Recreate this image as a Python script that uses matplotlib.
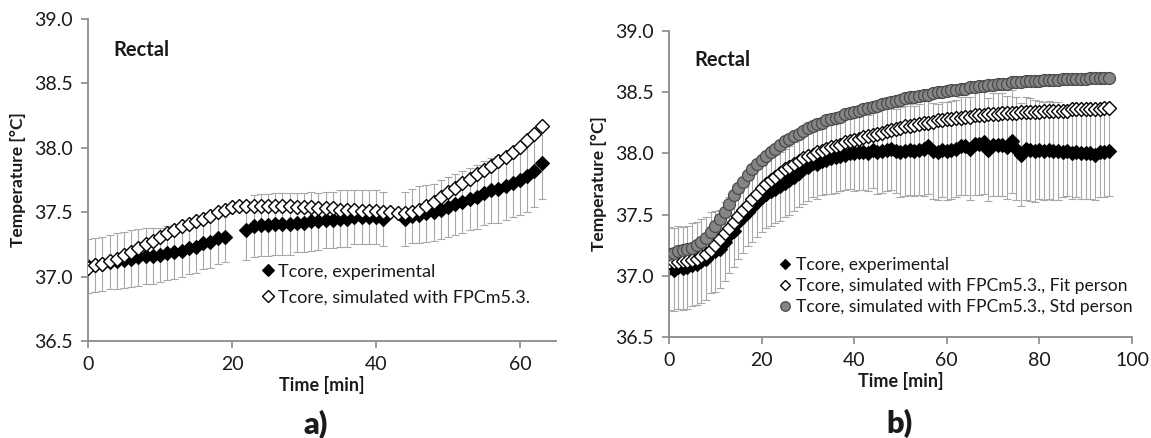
import matplotlib

matplotlib.use("Agg")
import matplotlib.pyplot as plt
import numpy as np

plt.rcParams["font.family"] = ["Lato", "DejaVu Sans"]

# ---------------------------------------------------------------------------
# data: panel a) (0..63 min, gaps in the measurement at 20-21 and 42-43)
# ---------------------------------------------------------------------------
nan = np.nan
time_a = list(range(64))
exp_a = [37.08, 37.09, 37.10, 37.11, 37.12, 37.13, 37.14, 37.15, 37.16, 37.16,
         37.17, 37.18, 37.19, 37.20, 37.22, 37.23, 37.26, 37.27, 37.30, 37.31,
         nan, nan, 37.36, 37.39, 37.40, 37.40, 37.41, 37.41, 37.41, 37.42,
         37.42, 37.43, 37.43, 37.44, 37.44, 37.45, 37.45, 37.46, 37.46, 37.46,
         37.46, 37.45, nan, nan, 37.45, 37.47, 37.48, 37.49, 37.50, 37.52,
         37.54, 37.56, 37.58, 37.60, 37.62, 37.65, 37.67, 37.68, 37.70, 37.73,
         37.75, 37.78, 37.82, 37.88]
sd_a = [0.21, 0.21, 0.21, 0.21, 0.22, 0.22, 0.22, 0.22, 0.22, 0.22,
        0.21, 0.21, 0.21, 0.20, 0.20, 0.20, 0.20, 0.20, 0.20, 0.20,
        nan, nan, 0.23, 0.24, 0.24, 0.24, 0.24, 0.24, 0.24, 0.23,
        0.23, 0.23, 0.22, 0.22, 0.22, 0.22, 0.22, 0.21, 0.21, 0.21,
        0.21, 0.21, nan, nan, 0.21, 0.21, 0.22, 0.22, 0.22, 0.23,
        0.23, 0.24, 0.24, 0.24, 0.25, 0.25, 0.25, 0.26, 0.26, 0.27,
        0.27, 0.28, 0.28, 0.28]
sim_a = [37.07, 37.09, 37.10, 37.12, 37.14, 37.17, 37.19, 37.22, 37.25, 37.28,
         37.31, 37.34, 37.36, 37.39, 37.41, 37.43, 37.45, 37.47, 37.50, 37.52,
         37.54, 37.55, 37.55, 37.55, 37.55, 37.55, 37.55, 37.55, 37.55, 37.54,
         37.54, 37.54, 37.53, 37.53, 37.53, 37.52, 37.52, 37.52, 37.51, 37.51,
         37.51, 37.50, 37.50, 37.49, 37.49, 37.50, 37.52, 37.55, 37.58, 37.62,
         37.66, 37.69, 37.73, 37.76, 37.80, 37.83, 37.86, 37.90, 37.93, 37.97,
         38.01, 38.06, 38.11, 38.17]

# ---------------------------------------------------------------------------
# data: panel b) (0..95 min)
# ---------------------------------------------------------------------------
time_b = list(range(96))
exp_b = [37.06, 37.05, 37.07, 37.06, 37.07, 37.09, 37.10, 37.12, 37.14, 37.19,
         37.20, 37.22, 37.28, 37.33, 37.37, 37.44, 37.48, 37.52, 37.56, 37.60,
         37.64, 37.67, 37.69, 37.71, 37.73, 37.76, 37.78, 37.81, 37.84, 37.87,
         37.89, 37.92, 37.91, 37.94, 37.95, 37.96, 37.97, 37.98, 37.99, 38.00,
         38.00, 38.01, 38.01, 38.00, 38.03, 38.01, 38.02, 38.03, 38.04, 38.02,
         38.01, 38.02, 38.03, 38.02, 38.03, 38.04, 38.06, 38.02, 38.01, 38.03,
         38.02, 38.03, 38.04, 38.06, 38.06, 38.04, 38.08, 38.08, 38.09, 38.03,
         38.07, 38.07, 38.07, 38.05, 38.10, 38.04, 37.99, 38.04, 38.03, 38.02,
         38.03, 38.02, 38.03, 38.02, 38.02, 38.01, 38.02, 38.00, 38.01, 38.00,
         38.00, 38.00, 37.99, 38.01, 38.01, 38.02]
sd_b = [0.34, 0.34, 0.34, 0.34, 0.34, 0.34, 0.34, 0.34, 0.34, 0.33,
        0.33, 0.32, 0.32, 0.31, 0.30, 0.30, 0.29, 0.28, 0.28, 0.28,
        0.28, 0.28, 0.28, 0.28, 0.28, 0.28, 0.28, 0.28, 0.28, 0.28,
        0.28, 0.28, 0.28, 0.28, 0.28, 0.29, 0.29, 0.29, 0.29, 0.29,
        0.31, 0.31, 0.31, 0.31, 0.31, 0.34, 0.34, 0.34, 0.34, 0.34,
        0.37, 0.37, 0.37, 0.37, 0.37, 0.39, 0.39, 0.39, 0.39, 0.39,
        0.40, 0.40, 0.40, 0.40, 0.40, 0.42, 0.42, 0.42, 0.42, 0.42,
        0.42, 0.42, 0.42, 0.42, 0.42, 0.42, 0.42, 0.42, 0.42, 0.42,
        0.40, 0.40, 0.40, 0.40, 0.40, 0.37, 0.37, 0.37, 0.37, 0.37,
        0.37, 0.37, 0.37, 0.37, 0.37, 0.37]
fit_b = [37.11, 37.11, 37.11, 37.12, 37.12, 37.13, 37.14, 37.16, 37.18, 37.21,
         37.25, 37.30, 37.35, 37.39, 37.44, 37.49, 37.54, 37.58, 37.63, 37.67,
         37.72, 37.75, 37.78, 37.81, 37.84, 37.87, 37.89, 37.91, 37.94, 37.96,
         37.98, 37.99, 38.01, 38.02, 38.04, 38.05, 38.06, 38.07, 38.09, 38.10,
         38.11, 38.12, 38.13, 38.14, 38.15, 38.16, 38.17, 38.18, 38.19, 38.20,
         38.21, 38.22, 38.22, 38.23, 38.24, 38.25, 38.25, 38.26, 38.27, 38.27,
         38.28, 38.28, 38.29, 38.29, 38.30, 38.30, 38.31, 38.31, 38.31, 38.32,
         38.32, 38.32, 38.33, 38.33, 38.33, 38.33, 38.34, 38.34, 38.34, 38.34,
         38.34, 38.35, 38.35, 38.35, 38.35, 38.35, 38.35, 38.36, 38.36, 38.36,
         38.36, 38.36, 38.36, 38.36, 38.37, 38.37]
std_b = [37.18, 37.19, 37.20, 37.21, 37.22, 37.23, 37.25, 37.28, 37.31, 37.36,
         37.41, 37.46, 37.52, 37.59, 37.66, 37.72, 37.77, 37.82, 37.87, 37.91,
         37.95, 37.98, 38.01, 38.04, 38.07, 38.10, 38.12, 38.14, 38.16, 38.18,
         38.21, 38.22, 38.24, 38.25, 38.27, 38.28, 38.29, 38.30, 38.32, 38.33,
         38.34, 38.35, 38.36, 38.37, 38.38, 38.39, 38.40, 38.41, 38.42, 38.43,
         38.44, 38.45, 38.46, 38.46, 38.47, 38.48, 38.48, 38.49, 38.50, 38.50,
         38.51, 38.52, 38.52, 38.53, 38.53, 38.54, 38.54, 38.55, 38.55, 38.56,
         38.56, 38.57, 38.57, 38.57, 38.58, 38.58, 38.58, 38.59, 38.59, 38.59,
         38.59, 38.60, 38.60, 38.60, 38.60, 38.61, 38.61, 38.61, 38.61, 38.61,
         38.61, 38.62, 38.62, 38.62, 38.62, 38.62]

y_ticks = [36.5, 37.0, 37.5, 38.0, 38.5, 39.0]
lbl_exp = "Tcore, experimental"
lbl_sim_a = "Tcore, simulated with FPCm5.3."
lbl_fit = "Tcore, simulated with FPCm5.3., Fit person"
lbl_std = "Tcore, simulated with FPCm5.3., Std person"

AXIS_GREY = "#8a8a8a"
ERR_GREY = "#a8a8a8"
TEXT = "#1a1a1a"


def _style_axes(ax, xmax, xticks):
    for side in ("top", "right"):
        ax.spines[side].set_visible(False)
    for side in ("left", "bottom"):
        ax.spines[side].set_color(AXIS_GREY)
        ax.spines[side].set_linewidth(1.3)
    ax.set_ylim(36.5, 39.0)
    ax.set_yticks(y_ticks)
    ax.set_yticklabels([f"{v:.1f}" for v in y_ticks])
    ax.set_xlim(0, xmax)
    ax.set_xticks(xticks)
    ax.tick_params(direction="out", length=5, width=1.2, color=AXIS_GREY,
                   labelsize=14, labelcolor=TEXT, pad=6)
    ax.set_xlabel("Time [min]", fontsize=13, fontweight="bold", color=TEXT,
                  labelpad=2)
    ax.set_ylabel("Temperature [°C]", fontsize=12.5, fontweight="bold",
                  color=TEXT, labelpad=6)
    ax.text(0.055, 0.905, "Rectal", transform=ax.transAxes, fontsize=14.5,
            fontweight="bold", color=TEXT, va="center")
    ax.patch.set_alpha(0)


def _errs(ax, t, y, sd):
    ax.errorbar(t, y, yerr=sd, fmt="none", ecolor=ERR_GREY, elinewidth=0.8,
                capsize=2.8, capthick=0.8, zorder=1)


fig = plt.figure(figsize=(11.51, 4.38), dpi=100)

# -- panel a) ----------------------------------------------------------------
ax_a = fig.add_axes([0.0765, 0.2215, 0.4066, 0.735])
_errs(ax_a, time_a, exp_a, sd_a)
h_exp_a, = ax_a.plot(time_a, exp_a, ls="none", marker="D", ms=6.8,
                     mfc="black", mec="black", mew=0.8, zorder=2)
h_sim_a, = ax_a.plot(time_a, sim_a, ls="none", marker="D", ms=6.8,
                     mfc="white", mec="black", mew=1.0, zorder=3)
_style_axes(ax_a, 65, [0, 20, 40, 60])
ax_a.legend([h_exp_a, h_sim_a], [lbl_exp, lbl_sim_a], loc="upper left",
            bbox_to_anchor=(0.372, 0.24), frameon=False, fontsize=13,
            handlelength=0.6, handletextpad=0.3, labelspacing=0.55,
            borderpad=0, borderaxespad=0, markerscale=0.85,
            labelcolor=TEXT)

# -- panel b) ----------------------------------------------------------------
ax_b = fig.add_axes([0.5812, 0.2306, 0.4023, 0.6986])
_errs(ax_b, time_b, exp_b, sd_b)
h_exp_b, = ax_b.plot(time_b, exp_b, ls="none", marker="D", ms=7.0,
                     mfc="black", mec="black", mew=0.8, zorder=2)
h_fit_b, = ax_b.plot(time_b, fit_b, ls="none", marker="D", ms=7.0,
                     mfc="white", mec="black", mew=1.0, zorder=3)
h_std_b, = ax_b.plot(time_b, std_b, ls="none", marker="o", ms=8.6,
                     mfc="#858585", mec="#4a4a4a", mew=0.9, zorder=4)
_style_axes(ax_b, 100, [0, 20, 40, 60, 80, 100])
ax_b.legend([h_exp_b, h_fit_b, h_std_b], [lbl_exp, lbl_fit, lbl_std],
            loc="upper left", bbox_to_anchor=(0.24, 0.26), frameon=False,
            fontsize=12.6, handlelength=0.6, handletextpad=0.3,
            labelspacing=0.28, borderpad=0, borderaxespad=0,
            markerscale=0.8, labelcolor=TEXT)

# -- panel letters -----------------------------------------------------------
fig.text(316 / 1151, 1 - 424 / 438, "a)", fontsize=22, fontweight="heavy",
         color=TEXT, ha="center", va="center")
fig.text(899 / 1151, 1 - 423 / 438, "b)", fontsize=22, fontweight="heavy",
         color=TEXT, ha="center", va="center")

fig.savefig("out.png", dpi=100, facecolor="white")
plt.close("all")
